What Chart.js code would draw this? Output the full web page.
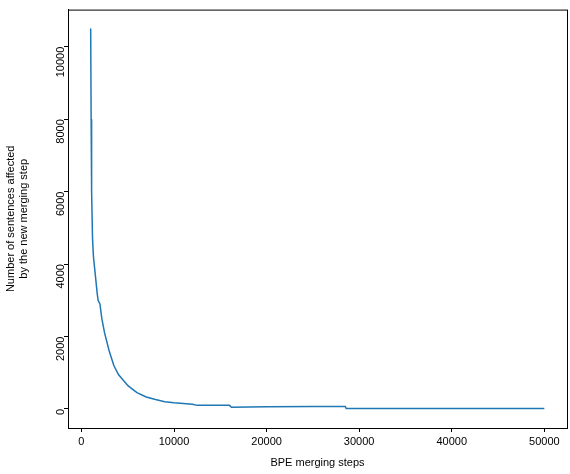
<!DOCTYPE html><html><head><script src="https://cdn.jsdelivr.net/npm/chart.js@4"></script>
<style>body{margin:0}#w{width:570px;height:474px}</style></head><body><div id="w"><canvas id="c"></canvas></div>
<script>
const stepsX=[1000,1050,1100,1200,1300,1500,1700,1800,2000,2200,2500,3000,3500,4000,4500,5000,5500,6000,7000,8000,9000,10000,11000,12000,12500,16000,16200,20000,25000,28500,28600,50000];
const affected=[10500,8000,6000,4700,4200,3700,3200,3000,2900,2500,2100,1600,1200,950,800,650,550,450,330,260,200,170,150,130,100,100,50,60,70,70,10,10];
const xTicks=[0,10000,20000,30000,40000,50000];
const yTicks=[0,2000,4000,6000,8000,10000];
const font={family:'"Liberation Sans", Arial, sans-serif',size:11};
new Chart(document.getElementById('c'),{type:'line',
data:{datasets:[{data:stepsX.map((x,i)=>({x,y:affected[i]})),borderColor:'#1f77b4',borderWidth:1.5,pointRadius:0,tension:0}]},
options:{responsive:true,maintainAspectRatio:false,animation:false,layout:{padding:{top:5,right:3}},
plugins:{legend:{display:false},tooltip:{enabled:false}},
scales:{
x:{type:'linear',min:-1450,max:52450,afterBuildTicks:a=>{a.ticks=xTicks.map(v=>({value:v}))},afterFit:a=>{a.height=46},
 grid:{drawOnChartArea:false,tickLength:4,color:'#000'},border:{color:'#000'},
 ticks:{color:'#000',font,maxRotation:0,callback:v=>v},title:{display:true,text:'BPE merging steps',color:'#000',font,padding:{top:2}}},
y:{type:'linear',min:-525,max:11025,afterBuildTicks:a=>{a.ticks=yTicks.map(v=>({value:v}))},afterFit:a=>{a.width=68},
 grid:{drawOnChartArea:false,tickLength:4,color:'#000'},border:{color:'#000'},
 ticks:{color:'#000',font,minRotation:90,maxRotation:90,callback:v=>v},title:{display:true,text:['Number of sentences affected','by the new merging step'],color:'#000',font,padding:{bottom:4}}}}},
plugins:[{id:'box',afterDraw(c){const a=c.chartArea,x=c.ctx;x.save();x.strokeStyle='#000';x.lineWidth=1;x.strokeRect(a.left+.5,a.top+.5,a.right-a.left,a.bottom-a.top);x.restore();}}]});
</script></body></html>
